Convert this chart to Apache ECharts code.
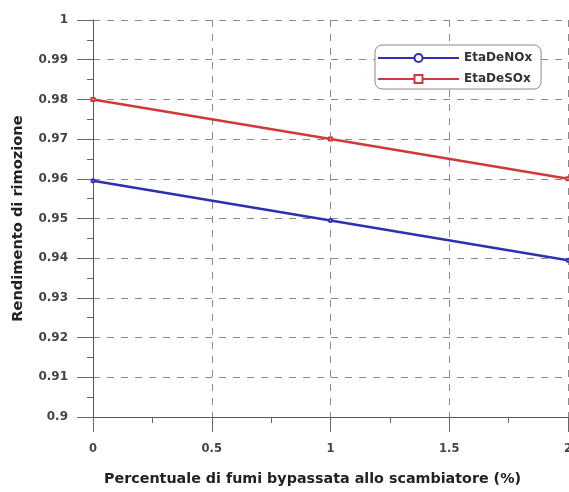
<!DOCTYPE html>
<html>
<head>
<meta charset="utf-8">
<script src="https://cdn.jsdelivr.net/npm/echarts@6/dist/echarts.min.js"></script>
<style>html,body{margin:0;padding:0;background:#fff}#c{width:569px;height:492px}</style>
</head>
<body>
<div id="c"></div>
<script>
const xValues = [0, 1, 2];
const noxValues = [0.9595, 0.9495, 0.9395];
const soxValues = [0.98, 0.97, 0.96];
const seriesNames = ['EtaDeNOx', 'EtaDeSOx'];
const xTitle = 'Percentuale di fumi bypassata allo scambiatore (%)';
const yTitle = 'Rendimento di rimozione';

const chart = echarts.init(document.getElementById('c'));
const font = 'DejaVu Sans, Verdana, sans-serif';
const dashed = {show: true, lineStyle: {color: '#8a8a8a', type: [7, 7], width: 1}};
const fmt = v => String(parseFloat(v.toFixed(2)));
chart.setOption({
  animation: false,
  backgroundColor: '#fff',
  grid: {left: 93, right: 1, top: 20, bottom: 75, outerBoundsMode: 'none', containLabel: false},
  legend: {
    left: 375, top: 45, orient: 'vertical',
    itemWidth: 81, itemHeight: 10, itemGap: 9,
    padding: [7, 9, 4, 2],
    borderColor: '#8a8a8a', borderWidth: 1, borderRadius: 7,
    backgroundColor: '#fff',
    textStyle: {fontFamily: font, fontWeight: 'bold', fontSize: 12, color: '#333'},
    data: seriesNames
  },
  xAxis: {
    type: 'value', min: 0, max: 2, interval: 0.5,
    name: xTitle, nameLocation: 'middle', nameGap: 55,
    nameTextStyle: {fontFamily: font, fontWeight: 'bold', fontSize: 14.3, color: '#222', padding: [0, 36, 0, 0]},
    axisLine: {show: true, lineStyle: {color: '#555', width: 1}},
    axisTick: {show: true, length: 15, lineStyle: {color: '#666'}},
    minorTick: {show: true, splitNumber: 2, length: 6, lineStyle: {color: '#666'}},
    axisLabel: {margin: 26, fontFamily: font, fontWeight: 'bold', fontSize: 11.5, color: '#444', formatter: fmt},
    splitLine: dashed
  },
  yAxis: {
    type: 'value', min: 0.9, max: 1, interval: 0.01,
    name: yTitle, nameLocation: 'middle', nameGap: 67, nameRotate: 90,
    nameTextStyle: {fontFamily: font, fontWeight: 'bold', fontSize: 14.6, color: '#222'},
    axisLine: {show: true, lineStyle: {color: '#555', width: 1}},
    axisTick: {show: true, length: 16, lineStyle: {color: '#666'}},
    minorTick: {show: true, splitNumber: 2, length: 6, lineStyle: {color: '#666'}},
    axisLabel: {margin: 25, fontFamily: font, fontWeight: 'bold', fontSize: 12, color: '#444', formatter: fmt},
    splitLine: dashed
  },
  series: [
    {
      name: seriesNames[0], type: 'line',
      data: xValues.map((x, i) => [x, noxValues[i]]),
      color: '#2f2fb0', symbol: 'emptyCircle', symbolSize: 3,
      lineStyle: {width: 2.5, color: '#2f2fb0'}
    },
    {
      name: seriesNames[1], type: 'line',
      data: xValues.map((x, i) => [x, soxValues[i]]),
      color: '#d03a3a', symbol: 'emptyRect', symbolSize: 3,
      lineStyle: {width: 2.5, color: '#d03a3a'}
    }
  ]
});
</script>
</body>
</html>
